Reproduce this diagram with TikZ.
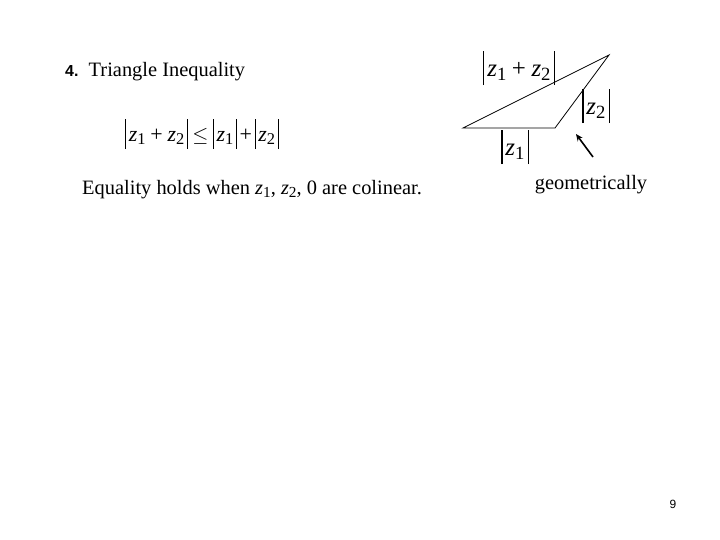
\documentclass[tikz,border=0pt]{standalone}
\usepackage{fontspec}
\usetikzlibrary{arrows.meta}
\setmainfont{Liberation Serif}
\newfontfamily\arialf{Liberation Sans}
\newcommand{\zz}[1]{\textit{z}\raisebox{-0.3ex}{\scalebox{0.75}{#1}}}
\newcommand{\br}{\rule[-0.33em]{0.05em}{1.38em}}
\newcommand{\av}[1]{\br\hspace{0.12em}#1\hspace{0.12em}\br}
\newcommand{\pl}{\hspace{0.22em}+\hspace{0.22em}}
\begin{document}
\begin{tikzpicture}[x=1bp,y=-1bp,
  txt/.style={inner sep=0pt, font=\fontsize{20.5}{24}\selectfont},
  mth/.style={inner sep=0pt, font=\fontsize{22}{26}\selectfont},
  lab/.style={inner sep=0pt, font=\fontsize{25}{29}\selectfont},
  edge/.style={line width=0.8pt},
  arr/.style={line width=1.6pt,-{Stealth[length=7pt,width=6pt]}}]
\useasboundingbox[fill=white] (0,0) rectangle (720,540);
\node[txt, anchor=west] (title) at (65,72) {{\arialf\bfseries\fontsize{16}{20}\selectfont 4.}\ \ Triangle Inequality};
\node[mth] (ineq) at (202,134) {\av{\zz{1}\pl\zz{2}}\hspace{0.2em}$\le$\hspace{0.2em}\av{\zz{1}}\hspace{0.12em}+\hspace{0.12em}\av{\zz{2}}};
\node[txt, anchor=west] (eq) at (82,190) {Equality holds when \zz{1}, \zz{2}, 0 are colinear.};
\coordinate (A) at (463,128);
\coordinate (B) at (555,128);
\coordinate (C) at (609,55);
\draw[edge] (A) -- (B) -- (C) -- cycle;
\node[lab] (lsum) at (519,68) {\av{\zz{1}\pl\zz{2}}};
\node[lab] (lz2) at (596,106) {\av{\zz{2}}};
\node[lab] (lz1) at (515,147) {\av{\zz{1}}};
\node[txt] (geo) at (591,185) {geometrically};
\coordinate (t1) at (593,157);
\coordinate (t2) at (576,134);
\draw[arr] (t1) -- (t2);
\node[inner sep=0pt, font=\arialf\fontsize{12}{14}\selectfont] (pg) at (673,504) {9};
\end{tikzpicture}
\end{document}
